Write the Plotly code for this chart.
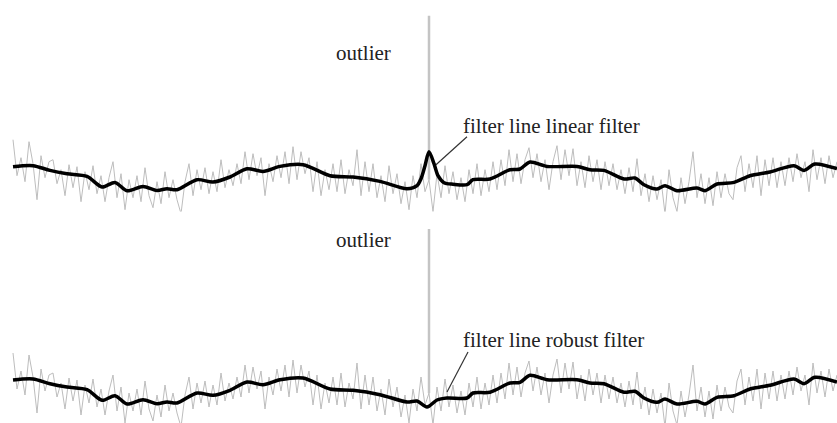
import plotly.graph_objects as go

# ---- data -------------------------------------------------------------
# raw measured signal (sampled every 4 time units, starting at t = 0)
sample_step = 4
raw_signal = [
    28, -8, 10, -14, 26, 4, -32, 12, -10, 6,
    8, -16, -2, -28, 3, -20, 1, -34, -4, -22,
    2, -26, -8, -34, -10, 6, -30, -6, -42, -12,
    -30, -8, -34, 0, -28, -40, -14, -36, -4, -30,
    -12, -32, -46, -14, 4, -28, -2, -22, 0, -26,
    -4, -24, 8, -20, -2, -18, 4, -16, 16, -12,
    14, -8, 10, -28, 4, -14, 12, -10, 16, -16,
    21, -12, 16, -6, 10, -24, 6, -28, -2, -22,
    4, -24, 8, -26, -2, -18, 18, -28, 6, -24,
    4, -30, -8, -34, 2, -26, -6, -36, -14, -42,
    -8, -30, 4, -24, -12, -44, -6, -30, 2, -26,
    -4, -32, -10, -34, -2, -26, 4, -28, -2, -24,
    6, -22, 8, -18, 18, -14, 14, -16, 8, 20,
    -10, 14, -14, 8, -22, 6, 22, -12, 18, -8,
    19, -18, 6, -20, 12, -14, 8, -22, 6, -18,
    4, -22, -2, -26, 0, -24, 9, -28, -6, -34,
    -8, -32, -12, -46, -2, -30, -44, -10, -36, -14,
    16, -30, -6, -36, -10, -38, -4, -30, -6, -26,
    -32, 0, 12, -24, 4, -20, 12, -28, 8, -18,
    10, -20, 6, -18, 10, -14, 14, -10, 6, -24,
    18, -12, 10, -16, 12, -10, 6,
]
raw_t = [i * sample_step for i in range(len(raw_signal))]

# the single outlier sample
outlier_t = 416
outlier_v = 152

# linear filter line (knots)
linear_t = [0, 20, 37, 54, 74, 89, 102, 114, 130, 144, 154, 164, 184, 200,
            217, 234, 250, 267, 290, 317, 340, 367, 394, 404, 408, 412, 416,
            421, 425, 431, 440, 454, 460, 477, 497, 507, 517, 534, 564, 577,
            591, 611, 622, 631, 644, 652, 664, 684, 692, 704, 721, 737, 757,
            781, 791, 802, 824]
linear_v = [1, 2, -2.7, -6, -8.7, -19.3, -14.7, -23, -18.7, -22.7, -21, -22,
            -12, -14.3, -9.3, -1, -3.7, 1.3, 3, -8, -9.3, -13.7, -21, -18,
            -11, 2, 16, 4, -8, -15, -16.5, -17, -12, -11.3, -2, -1.3, 5.7,
            1.3, 1.3, -2, -2.7, -11.3, -10.3, -17, -21.3, -18, -23, -20.3,
            -23, -16.3, -14.7, -8, -4.3, 2, -2.7, 3.7, -1]

# robust filter line (knots)
robust_t = [0, 20, 37, 54, 74, 89, 102, 114, 130, 144, 154, 164, 184, 200,
            217, 234, 250, 267, 290, 317, 340, 367, 394, 404, 414, 424, 434,
            454, 460, 477, 497, 507, 517, 534, 564, 577, 591, 611, 622, 631,
            644, 652, 664, 684, 692, 704, 721, 737, 757, 781, 791, 802, 824]
robust_v = [1, 2, -2.7, -6, -8.7, -19.3, -14.7, -23, -18.7, -22.7, -21, -22,
            -12, -14.3, -9.3, -1, -3.7, 1.3, 3, -8, -9.3, -13.7, -21, -20,
            -26, -19, -17, -17, -12, -11.3, -2, -1.3, 5.7, 1.3, 1.3, -2,
            -2.7, -11.3, -10.3, -17, -21.3, -18, -23, -20.3, -23, -16.3,
            -14.7, -8, -4.3, 2, -2.7, 3.7, -1]

outlier_label = "outlier"
linear_label = "filter line linear filter"
robust_label = "filter line robust filter"

# ---- figure -----------------------------------------------------------
GRAY = "#bdbdbd"
FONT = "Liberation Serif"

out_idx = raw_t.index(outlier_t)

fig = go.Figure()
for xa, ya, filt_t, filt_v in (("x", "y", linear_t, linear_v),
                                ("x2", "y2", robust_t, robust_v)):
    fig.add_trace(go.Scatter(x=raw_t, y=raw_signal, mode="lines",
                             line=dict(color=GRAY, width=1),
                             xaxis=xa, yaxis=ya, hoverinfo="skip"))
    fig.add_trace(go.Scatter(x=[outlier_t, outlier_t],
                             y=[raw_signal[out_idx], outlier_v], mode="lines",
                             line=dict(color="#c4c4c4", width=2.5),
                             xaxis=xa, yaxis=ya, hoverinfo="skip"))
    fig.add_trace(go.Scatter(x=filt_t, y=filt_v, mode="lines",
                             line=dict(color="black", width=3.5,
                                       shape="spline", smoothing=0.8),
                             xaxis=xa, yaxis=ya, hoverinfo="skip"))

ax_common = dict(visible=False, showgrid=False, zeroline=False,
                 range=[-13, 824], fixedrange=True)
fig.update_layout(
    width=837, height=423,
    margin=dict(l=0, r=0, t=0, b=0),
    paper_bgcolor="white", plot_bgcolor="white",
    showlegend=False,
    xaxis=dict(domain=[0, 1], anchor="y", **ax_common),
    xaxis2=dict(domain=[0, 1], anchor="y2", **ax_common),
    yaxis=dict(domain=[0.5, 1], range=[-43.8, 167.7], visible=False,
               showgrid=False, zeroline=False),
    yaxis2=dict(domain=[0, 0.5], range=[-42, 169.5], visible=False,
                showgrid=False, zeroline=False),
)

txt = dict(family=FONT, size=21, color="#222222")
fig.add_annotation(x=350, y=115, xref="x", yref="y", text=outlier_label,
                   showarrow=False, font=txt)
fig.add_annotation(x=448, y=42, xref="x", yref="y", text=linear_label,
                   showarrow=False, xanchor="left", font=txt)
fig.add_annotation(x=350, y=141, xref="x2", yref="y2", text=outlier_label,
                   showarrow=False, font=txt)
fig.add_annotation(x=448, y=41, xref="x2", yref="y2", text=robust_label,
                   showarrow=False, xanchor="left", font=txt)

fig.add_shape(type="line", xref="x", yref="y", x0=423, y0=3, x1=454, y1=31,
              line=dict(color="#333333", width=1.2))
fig.add_shape(type="line", xref="x2", yref="y2", x0=434, y0=-11, x1=455, y1=29,
              line=dict(color="#333333", width=1.2))

fig.write_html("out.html")
